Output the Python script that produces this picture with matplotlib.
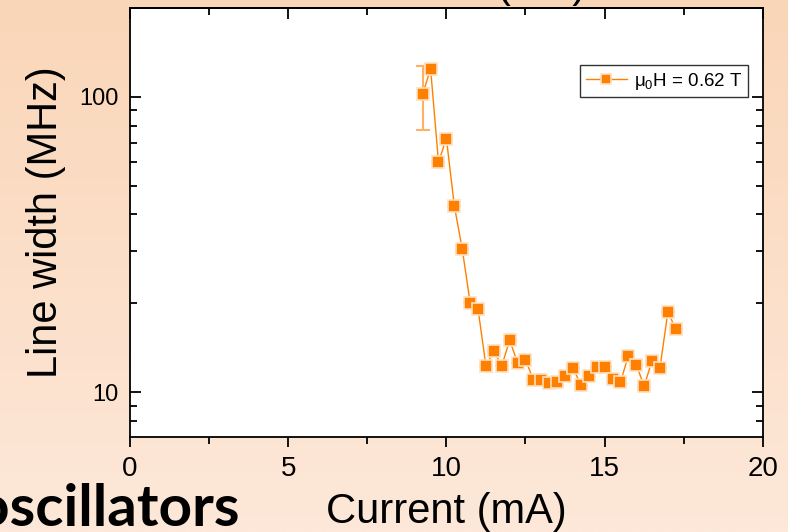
import numpy as np
import matplotlib
matplotlib.use('Agg')
import matplotlib.pyplot as plt
from matplotlib.ticker import MultipleLocator, LogLocator, NullFormatter, FixedLocator

plt.rcParams['font.family'] = ['Liberation Sans', 'DejaVu Sans']

# line width vs. current, mu0 H = 0.62 T
current = [9.25, 9.5, 9.75, 10.0, 10.25, 10.5, 10.75, 11.0, 11.25, 11.5, 11.75,
           12.0, 12.25, 12.5, 12.75, 13.0, 13.25, 13.5, 13.75, 14.0, 14.25, 14.5,
           14.75, 15.0, 15.25, 15.5, 15.75, 16.0, 16.25, 16.5, 16.75, 17.0, 17.25]
linewidth = [102, 124.7, 60.1, 72.3, 42.8, 30.6, 20.1, 19.1, 12.3, 13.8, 12.3,
             15.0, 12.6, 12.9, 11.0, 11.0, 10.75, 10.8, 11.4, 12.1, 10.6, 11.4,
             12.2, 12.2, 11.1, 10.8, 13.3, 12.4, 10.5, 12.8, 12.1, 18.7, 16.4]
# only the first point has a visible error bar
err_lo = [24.5] + [0] * 32
err_hi = [25.0] + [0] * 32

x_ticks = [0, 5, 10, 15, 20]
y_ticks = [10, 100]

fig = plt.figure(figsize=(7.88, 5.32), dpi=100)

# peach slide background
bg = fig.add_axes([0, 0, 1, 1], zorder=-10)
top = np.array([250, 214, 184]) / 255
bot = np.array([253, 232, 217]) / 255
t = np.linspace(0, 1, 256)[:, None]
grad = top[None, :] * (1 - t) + bot[None, :] * t
bg.imshow(grad[:, None, :], aspect='auto', extent=[0, 1, 0, 1])
bg.axis('off')

ax = fig.add_axes([0.165, 0.1786, 0.803, 0.8064])
ax.set_facecolor('white')

ax.errorbar(current, linewidth, yerr=[err_lo, err_hi], fmt='none',
            ecolor='#FFB066', elinewidth=1.5, capsize=5, capthick=1.5, zorder=2)
ax.plot(current, linewidth, '-s', color='#FF8000', lw=1.0, ms=9,
        mfc='#FF8000', mec='#FFE0C0', mew=1.2, zorder=3,
        label=r'$\mathregular{\mu_0}$H = 0.62 T')

ax.set_yscale('log')
ax.set_xlim(0, 20)
ax.set_ylim(7.06, 200)

ax.xaxis.set_major_locator(FixedLocator(x_ticks))
ax.xaxis.set_minor_locator(MultipleLocator(2.5))
ax.yaxis.set_major_locator(FixedLocator(y_ticks))
ax.yaxis.set_major_formatter(plt.FixedFormatter(['10', '100']))
ax.yaxis.set_minor_locator(LogLocator(base=10, subs=np.arange(2, 10)))
ax.yaxis.set_minor_formatter(NullFormatter())

for s in ax.spines.values():
    s.set_linewidth(1.3)

ax.tick_params(axis='y', which='both', direction='in', left=True, right=True, width=1.3)
ax.tick_params(axis='y', which='major', length=8, labelsize=17, pad=8)
ax.tick_params(axis='y', which='minor', length=5)
ax.tick_params(axis='x', which='both', direction='out', top=False, width=1.3)
ax.tick_params(axis='x', which='major', length=7, labelsize=20, pad=7)
ax.tick_params(axis='x', which='minor', length=5)

# top ticks pointing in
sec = ax.secondary_xaxis('top')
sec.xaxis.set_major_locator(FixedLocator(x_ticks))
sec.xaxis.set_minor_locator(MultipleLocator(2.5))
sec.tick_params(which='both', direction='in', labeltop=False, width=1.3)
sec.tick_params(which='major', length=8)
sec.tick_params(which='minor', length=5)
sec.spines['top'].set_linewidth(1.3)

ax.set_xlabel('Current (mA)', fontsize=30, labelpad=7)
ax.set_ylabel('Line width (MHz)', fontsize=30, labelpad=10)

leg = ax.legend(loc='upper right', bbox_to_anchor=(0.976, 0.867), fontsize=13.5,
                frameon=True, fancybox=False, edgecolor='black',
                handlelength=2.2, handletextpad=0.35, borderpad=0.3,
                borderaxespad=0, markerscale=0.85)
leg.get_frame().set_linewidth(1.0)

# slide text cut off at the edges
fig.text(0.687, 1.005, '(mA)', fontsize=30, ha='center', va='baseline')
fig.text(-0.03, 0.012, 'oscillators', fontsize=42, fontweight='bold',
         family=['Lato', 'DejaVu Sans'], ha='left', va='baseline')

fig.savefig('out.png', dpi=100)
